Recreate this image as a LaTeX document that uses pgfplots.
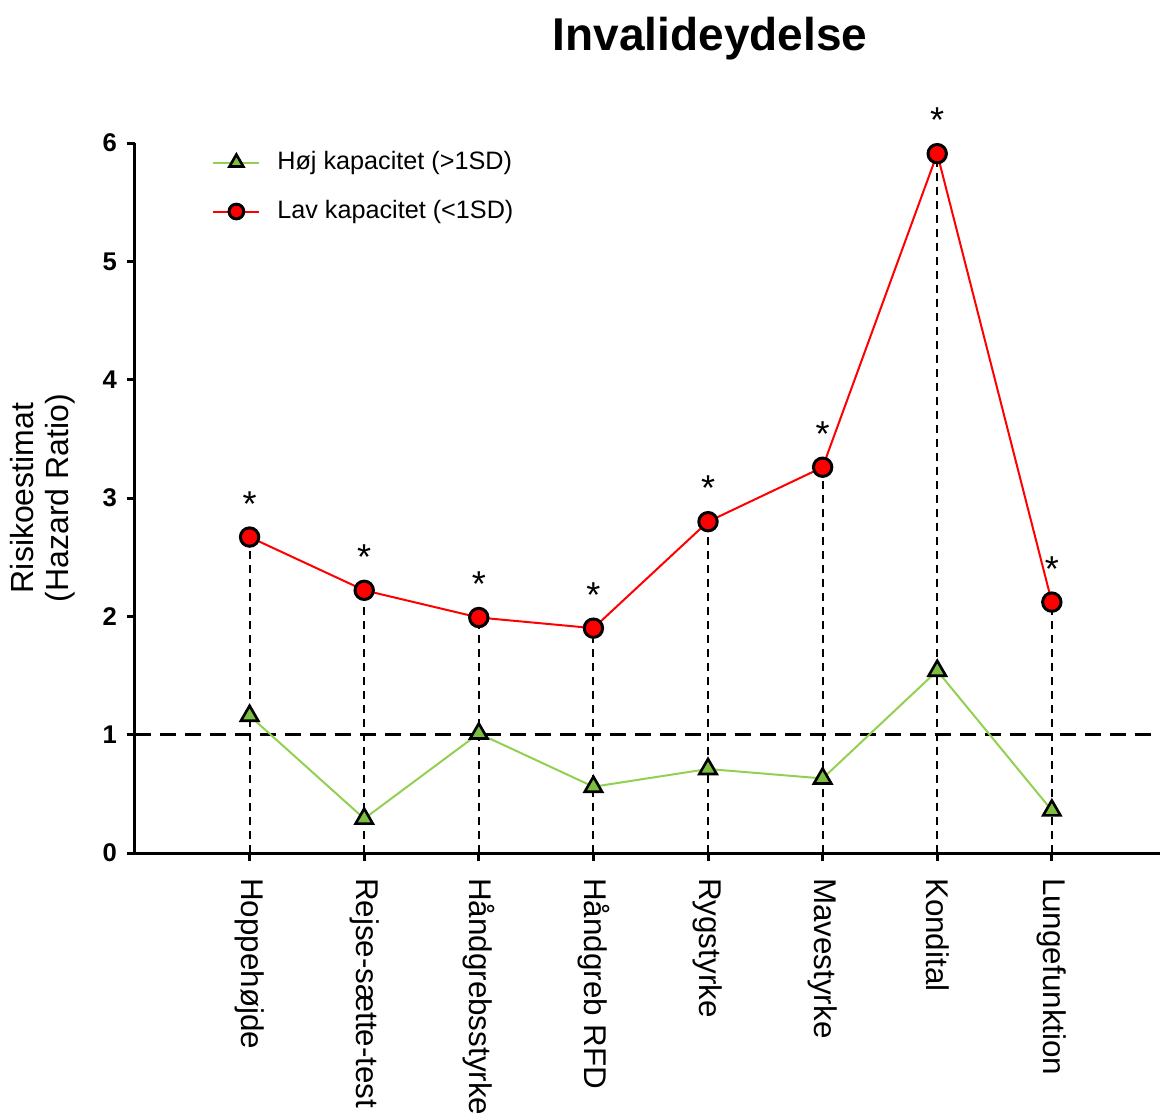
\documentclass[border=0pt]{standalone}
\usepackage{pgfplots}
\pgfplotsset{compat=1.18}
\usepackage{fontspec}
\setmainfont{Liberation Sans}
\definecolor{hgreen}{RGB}{146,208,80}
\definecolor{hgfill}{RGB}{122,190,66}
\begin{document}
\begin{tikzpicture}
\begin{axis}[
 scale only axis, width=512.5pt, height=355pt,
 xmin=0, xmax=8.944, ymin=0, ymax=6,
 axis x line=bottom, axis y line=left,
 axis line style={-, line width=1.5pt},
 clip=false,
 xtick={1,...,8},
 xticklabels={Hoppehøjde, Rejse-sætte-test, Håndgrebsstyrke, Håndgreb RFD, Rygstyrke, Mavestyrke, Kondital, Lungefunktion},
 xticklabel style={rotate=-90, anchor=west, font=\fontsize{15.7}{18}\selectfont},
 xticklabel shift=5pt,
 ytick={0,...,6},
 yticklabel style={font=\fontsize{12.8}{15}\selectfont\bfseries},
 yticklabel shift=1.5pt,
 /pgf/number format/assume math mode=true,
 tick align=outside,
 major tick length=4pt,
 every tick/.style={black, line width=1.5pt},
 ylabel={Risikoestimat\\(Hazard Ratio)},
 ylabel style={align=center, font=\fontsize{16}{17.5}\selectfont, at={(axis description cs:-0.0898,0.5)}, anchor=center},
 legend style={draw=none, fill=none, at={(axis description cs:0.0751,0.938)}, anchor=west, inner sep=0pt, row sep=12pt, column sep=0pt, font=\fontsize{12.6}{15}\selectfont, nodes={inner sep=0pt, text height=9.5pt, text depth=3pt}},
 legend cell align=left,
 legend image code/.code={\draw[mark repeat=2, mark phase=2, every mark/.append style={scale=0.8}] plot coordinates {(0pt,0pt) (11.5pt,0pt) (23pt,0pt)}; \path (31.5pt,0pt);},
]
% drop lines
\addplot[ycomb, black, line width=1pt, dash pattern=on 4pt off 3pt, forget plot] coordinates {
(1,2.67) (2,2.22) (3,1.99) (4,1.90) (5,2.80) (6,3.26) (7,5.91) (8,2.12)};
% reference line at 1
\addplot[black, line width=1.5pt, dash pattern=on 8pt off 4.5pt, forget plot] coordinates {(0,1) (8.944,1)};
% high capacity
\addplot[hgreen, line width=1pt, mark=triangle*, mark size=5pt, mark options={fill=hgfill, draw=black, line width=1.3pt, solid}] coordinates {
(1,1.16) (2,0.29) (3,1.01) (4,0.56) (5,0.71) (6,0.63) (7,1.54) (8,0.36)};
\addlegendentry{Høj kapacitet (>1SD)}
% low capacity
\addplot[red, line width=1pt, mark=*, mark size=4.6pt, mark options={fill=red, draw=black, line width=1.5pt, solid},
 nodes near coords={*},
 every node near coord/.style={anchor=base, inner sep=0pt, yshift=10.5pt, text=black, font=\fontsize{18}{20}\selectfont}] coordinates {
(1,2.67) (2,2.22) (3,1.99) (4,1.90) (5,2.80) (6,3.26) (7,5.91) (8,2.12)};
\addlegendentry{Lav kapacitet (<1SD)}
\end{axis}
\node[anchor=base, font=\fontsize{23}{28}\selectfont\bfseries] at (287.5pt,401pt) {Invalideydelse};
\pgfresetboundingbox
\path (-67.5pt,-133pt) rectangle (512.5pt,426.5pt);
\end{tikzpicture}
\end{document}
